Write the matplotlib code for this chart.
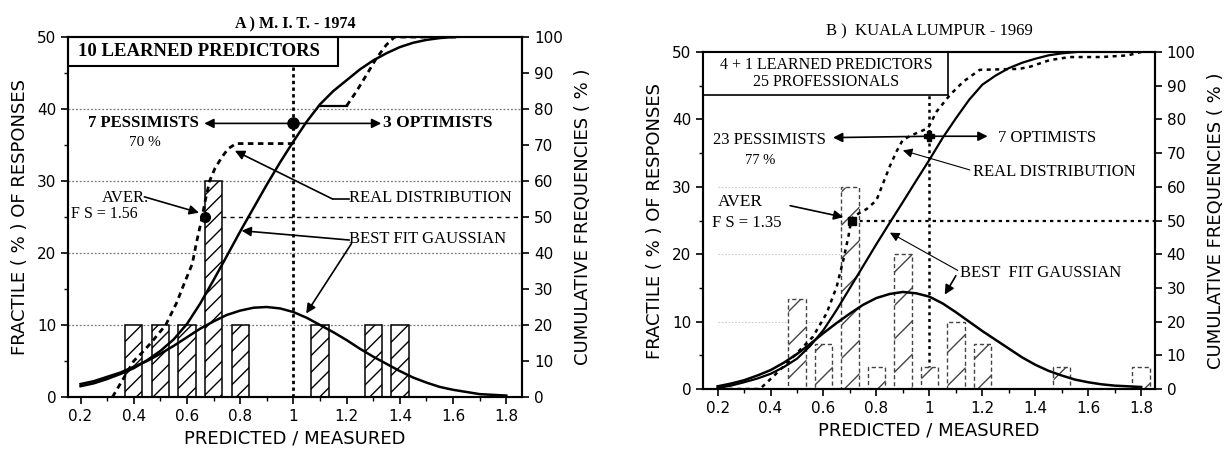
import numpy as np
import matplotlib
matplotlib.use("Agg")
import matplotlib.pyplot as plt

# ---------------- data ----------------
# A) M.I.T. 1974 - histogram of predicted / measured
mit_x = [0.4, 0.5, 0.6, 0.7, 0.8, 1.1, 1.3, 1.4]
mit_h = [10, 10, 10, 30, 10, 10, 10, 10]
# best fit gaussian (fractile %)
mit_gx = [0.2, 0.25, 0.3, 0.35, 0.4, 0.45, 0.5, 0.55, 0.6, 0.65, 0.7, 0.75, 0.8, 0.85, 0.9, 0.95,
          1.0, 1.05, 1.1, 1.15, 1.2, 1.25, 1.3, 1.35, 1.4, 1.45, 1.5, 1.55, 1.6, 1.65, 1.7, 1.75, 1.8]
mit_gy = [1.8, 2.2, 2.8, 3.4, 4.2, 5.0, 6.0, 7.1, 8.3, 9.5, 10.5, 11.4, 12.0, 12.4, 12.5, 12.3,
          11.8, 11.0, 10.0, 9.0, 7.9, 6.7, 5.6, 4.6, 3.6, 2.7, 2.0, 1.4, 1.0, 0.7, 0.4, 0.3, 0.2]
# cumulative of the gaussian (%)
mit_cx = [0.2, 0.25, 0.3, 0.35, 0.4, 0.45, 0.5, 0.55, 0.6, 0.65, 0.7, 0.75, 0.8, 0.85, 0.9, 0.95,
          1.0, 1.05, 1.1, 1.15, 1.2, 1.25, 1.3, 1.35, 1.4, 1.45, 1.5, 1.55, 1.6, 1.7, 1.8]
mit_cy = [3, 3.8, 5, 6.4, 8, 10.2, 12.8, 16, 20.3, 26, 32.5, 39.2, 46, 52.5, 59, 65.2,
          71, 76.5, 81.3, 85, 88, 91, 93.5, 95.5, 97.2, 98.4, 99.2, 99.7, 100, 100.3, 100.5]
# real cumulative distribution (%) drawn dashed, in pieces
mit_rx1 = [0.32, 0.36, 0.40, 0.44, 0.47, 0.52, 0.56, 0.59, 0.62, 0.635, 0.654, 0.67, 0.685, 0.705,
           0.73, 0.755, 0.785, 1.0]
mit_ry1 = [0, 5, 10, 13, 15.5, 20, 26, 31.6, 37, 42.7, 49, 55, 60, 63.5, 66.5, 69, 70.4, 70.4]
mit_rx2 = [1.10, 1.20]
mit_ry2 = [80.9, 80.9]
mit_rx3 = [1.20, 1.236, 1.274, 1.311, 1.349, 1.38, 1.62]
mit_ry3 = [80.9, 84.8, 89.4, 94, 97.8, 100, 100]

# B) KUALA LUMPUR 1969
kl_x = [0.5, 0.6, 0.7, 0.8, 0.9, 1.0, 1.1, 1.2, 1.5, 1.8]
kl_h = [13.3, 6.7, 30, 3.3, 20, 3.3, 10, 6.7, 3.3, 3.3]
kl_gx = [0.2, 0.25, 0.3, 0.35, 0.4, 0.45, 0.5, 0.55, 0.6, 0.65, 0.7, 0.75, 0.8, 0.85, 0.9, 0.95,
         1.0, 1.05, 1.1, 1.15, 1.2, 1.25, 1.3, 1.35, 1.4, 1.45, 1.5, 1.55, 1.6, 1.65, 1.7, 1.8]
kl_gy = [0.4, 0.8, 1.3, 2.0, 2.8, 3.9, 5.2, 6.7, 8.3, 9.8, 11.2, 12.5, 13.5, 14.1, 14.4, 14.2,
         13.7, 12.7, 11.4, 10.0, 8.6, 7.3, 6.0, 4.7, 3.6, 2.7, 2.0, 1.4, 1.0, 0.7, 0.5, 0.3]
kl_cx = [0.2, 0.25, 0.3, 0.35, 0.4, 0.45, 0.5, 0.55, 0.6, 0.65, 0.7, 0.75, 0.8, 0.85, 0.9, 0.95,
         1.0, 1.05, 1.1, 1.15, 1.2, 1.25, 1.3, 1.35, 1.4, 1.45, 1.5, 1.6, 1.7, 1.8]
kl_cy = [0.3, 1.0, 2, 3.1, 4.5, 6.5, 9, 12.8, 17.5, 23.5, 30, 36.5, 43, 49.3, 55.5, 61.8,
         68, 74.5, 80.3, 85.8, 90.3, 93, 95.2, 96.8, 98, 99, 99.6, 100.3, 100.5, 100.5]
kl_rx = [0.21, 0.36, 0.41, 0.474, 0.56, 0.612, 0.65, 0.675, 0.694, 0.706, 0.735, 0.763, 0.80, 0.825,
         0.85, 0.876, 0.90, 0.939, 0.995, 1.027, 1.077, 1.128, 1.19, 1.34, 1.379, 1.455, 1.53, 1.65,
         1.75, 1.8]
kl_ry = [0, 0, 3.7, 8.6, 15.5, 22.5, 30.4, 38.3, 45.2, 50.6, 52.2, 53.4, 56, 61,
         66, 70.5, 74, 75.5, 77.4, 82.3, 87.2, 91.2, 94.7, 95, 95.6, 97.6, 98.5, 98.5, 99, 100]

xticks = [0.2, 0.4, 0.6, 0.8, 1, 1.2, 1.4, 1.6, 1.8]
xticklabels = ["0.2", "0.4", "0.6", "0.8", "1", "1.2", "1.4", "1.6", "1.8"]

SERIF = "Liberation Serif"
SANS = "DejaVu Sans"

fig = plt.figure(figsize=(12.28, 4.49), dpi=100)
axA = fig.add_axes([0.0554, 0.1158, 0.3697, 0.8018])
axB = fig.add_axes([0.5725, 0.1336, 0.3680, 0.7506])


def setup(ax, xlim):
    ax.set_xlim(*xlim)
    ax.set_ylim(0, 50)
    ax.set_xticks(xticks)
    ax.set_xticklabels(xticklabels)
    ax.set_xticks(np.arange(0.2, 1.85, 0.1), minor=True)
    ax.set_yticks([0, 10, 20, 30, 40, 50])
    ax.set_yticks([5, 15, 25, 35, 45], minor=True)
    ax.tick_params(direction="out", length=5, width=1.2, labelsize=11)
    ax.tick_params(which="minor", direction="out", length=3, width=1)
    for s in ax.spines.values():
        s.set_linewidth(1.5)
    ax.set_ylabel("FRACTILE ( % ) OF RESPONSES", fontsize=13, labelpad=6)
    ax.set_xlabel("PREDICTED / MEASURED", fontsize=13, labelpad=4)
    ax2 = ax.twinx()
    ax2.set_ylim(0, 100)
    ax2.set_yticks(np.arange(0, 101, 10))
    ax2.tick_params(direction="out", length=5, width=1.2, labelsize=11)
    ax2.set_ylabel("CUMULATIVE FREQUENCIES ( % )", fontsize=13, labelpad=8)
    for s in ax2.spines.values():
        s.set_linewidth(1.5)
    return ax2


arrow = dict(arrowstyle="-|>", color="k", lw=1.2, mutation_scale=14, shrinkA=0, shrinkB=0)
thin_arrow = dict(arrowstyle="-|>", color="k", lw=0.8, mutation_scale=14, shrinkA=0, shrinkB=0)

# ======================= A) M.I.T. =======================
axA2 = setup(axA, (0.153, 1.859))
axA.bar(mit_x, mit_h, width=0.065, facecolor="white", edgecolor="k", hatch="//", linewidth=1.1, zorder=2)
for yv in [10, 20, 30, 40]:
    axA.plot([0.153, 1.859], [yv, yv], color="#777777", lw=0.9, ls=(0, (1.5, 1.5)), zorder=1)
axA.plot([0.666, 1.859], [25, 25], color="k", lw=1.0, ls=(0, (3, 3)), zorder=1)
axA.plot([1.0, 1.0], [0, 46], color="k", lw=2.0, ls=(0, (1.2, 1.2)), zorder=1)

axA.plot(mit_gx, mit_gy, color="k", lw=1.8, zorder=4)
axA2.plot(mit_cx, mit_cy, color="k", lw=1.8, zorder=4)
axA2.plot(mit_rx1, mit_ry1, color="k", lw=2.0, ls=(0, (2, 1.6)), zorder=4)
axA2.plot(mit_rx2, mit_ry2, color="k", lw=1.6, zorder=4)
axA2.plot(mit_rx3, mit_ry3, color="k", lw=2.0, ls=(0, (2, 1.6)), zorder=4)

# box
axA.add_patch(plt.Rectangle((0.153, 46), 1.166 - 0.153, 4, facecolor="white", edgecolor="k", lw=1.5, zorder=5))
axA.text(0.19, 48, "10 LEARNED PREDICTORS", fontsize=13.5, family=SERIF, fontweight="bold", va="center", zorder=6)

axA.plot([1.0], [38], "o", color="k", ms=8, zorder=6)
axA.annotate("", xy=(0.665, 38), xytext=(1.0, 38), arrowprops=arrow)
axA.annotate("", xy=(1.33, 38), xytext=(1.0, 38), arrowprops=arrow)
axA.text(0.435, 38, "7 PESSIMISTS", fontsize=12, family=SERIF, fontweight="bold", ha="center", va="center")
axA.text(0.44, 35.4, "70 %", fontsize=11, family=SERIF, ha="center", va="center")
axA.text(1.335, 38, "3 OPTIMISTS", fontsize=12.5, family=SERIF, fontweight="bold", ha="left", va="center")

axA.plot([0.666], [25], "o", color="k", ms=7, zorder=6)
axA.annotate("", xy=(0.645, 25.6), xytext=(0.44, 27.8), arrowprops=arrow)
axA.text(0.37, 27.6, "AVER.", fontsize=12, family=SERIF, ha="center", va="center")
axA.text(0.165, 25.4, "F S = 1.56", fontsize=11.5, family=SERIF, ha="left", va="center")

axA.plot([1.21, 1.147], [27.5, 27.5], color="k", lw=1.2)
axA.annotate("", xy=(0.78, 34.2), xytext=(1.147, 27.5), arrowprops=arrow)
axA.text(1.21, 27.6, "REAL DISTRIBUTION", fontsize=12, family=SERIF, ha="left", va="center")

axA.annotate("", xy=(0.805, 23.1), xytext=(1.21, 21.8), arrowprops=arrow)
axA.annotate("", xy=(1.048, 11.6), xytext=(1.218, 21.3), arrowprops=arrow)
axA.text(1.21, 22.0, "BEST FIT GAUSSIAN", fontsize=12, family=SERIF, ha="left", va="center")

axA.set_title("A ) M. I. T. - 1974", fontsize=11.5, family=SERIF, fontweight="bold", pad=6)

# ======================= B) KUALA LUMPUR =======================
axB2 = setup(axB, (0.145, 1.852))
axB.bar(kl_x, kl_h, width=0.066, facecolor="white", edgecolor="#444444", hatch="/",
        linewidth=1.0, linestyle=(0, (3, 2)), zorder=2)
for yv in [10, 20, 30]:
    axB.plot([0.2, 0.68], [yv, yv], color="#cccccc", lw=0.8, ls=(0, (1.5, 1.5)), zorder=1)
axB.plot([0.706, 1.852], [25, 25], color="k", lw=1.6, ls=(0, (1.5, 1.8)), zorder=1)
axB.plot([1.0, 1.0], [0, 43.6], color="k", lw=1.8, ls=(0, (1.2, 1.5)), zorder=1)

axB.plot(kl_gx, kl_gy, color="k", lw=1.8, zorder=4)
axB2.plot(kl_cx, kl_cy, color="k", lw=1.6, zorder=4)
axB2.plot(kl_rx, kl_ry, color="k", lw=1.8, ls=(0, (1.6, 1.8)), zorder=4)

axB.add_patch(plt.Rectangle((0.145, 43.6), 1.07 - 0.145, 6.4, facecolor="white", edgecolor="k", lw=1.2, zorder=5))
axB.text(0.61, 48.1, "4 + 1 LEARNED PREDICTORS", fontsize=11.5, family=SERIF, ha="center", va="center", zorder=6)
axB.text(0.61, 45.5, "25 PROFESSIONALS", fontsize=11.5, family=SERIF, ha="center", va="center", zorder=6)

axB.plot([1.0], [37.5], "P", color="k", ms=7, zorder=6)
axB.annotate("", xy=(0.636, 37.3), xytext=(1.0, 37.5), arrowprops=arrow)
axB.annotate("", xy=(1.22, 37.5), xytext=(1.0, 37.5), arrowprops=arrow)
axB.text(0.397, 37.0, "23 PESSIMISTS", fontsize=12, family=SERIF, ha="center", va="center")
axB.text(0.36, 33.9, "77 %", fontsize=10.5, family=SERIF, ha="center", va="center")
axB.text(1.258, 37.3, "7 OPTIMISTS", fontsize=12, family=SERIF, ha="left", va="center")

axB.plot([0.706], [25], "s", color="k", ms=6, zorder=6)
axB.annotate("", xy=(0.675, 25.5), xytext=(0.474, 27.2), arrowprops=arrow)
axB.text(0.20, 27.7, "AVER", fontsize=12.5, family=SERIF, ha="left", va="center")
axB.text(0.18, 24.6, "F S = 1.35", fontsize=12, family=SERIF, ha="left", va="center")

axB.annotate("", xy=(0.90, 35.4), xytext=(1.153, 32.5), arrowprops=thin_arrow)
axB.text(1.165, 32.2, "REAL DISTRIBUTION", fontsize=12, family=SERIF, ha="left", va="center")

axB.annotate("", xy=(0.851, 23.2), xytext=(1.107, 17.6), arrowprops=thin_arrow)
axB.annotate("", xy=(1.058, 14.0), xytext=(1.10, 16.8), arrowprops=arrow)
axB.text(1.115, 17.2, "BEST  FIT GAUSSIAN", fontsize=12, family=SERIF, ha="left", va="center")

axB.set_title("B )  KUALA LUMPUR - 1969", fontsize=12, family=SERIF, pad=12)

fig.savefig("out.png", dpi=100, facecolor="white")
